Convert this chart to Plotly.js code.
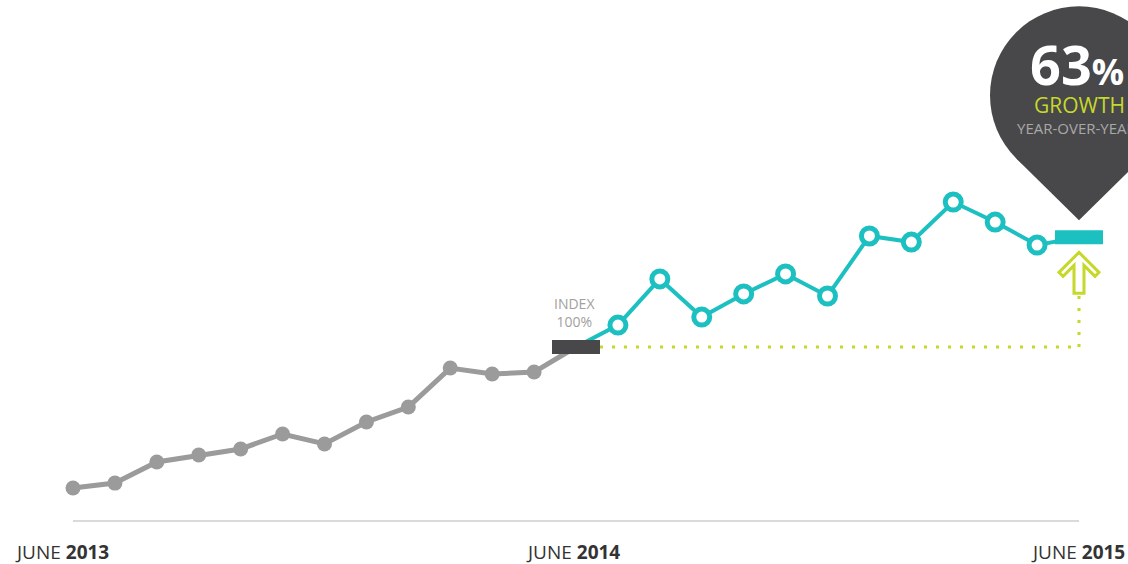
<!DOCTYPE html>
<html>
<head>
<meta charset="utf-8">
<script src="https://cdn.plot.ly/plotly-3.0.1.min.js"></script>
<style>html,body{margin:0;padding:0;background:#fff;}#chart{width:1128px;height:564px;}</style>
</head>
<body>
<div id="chart"></div>
<script>
// Months since June 2013
const grayMonths = [0,1,2,3,4,5,6,7,8,9,10,11];
const grayValues = [19.0,21.8,33.9,37.9,41.4,50.0,44.3,56.9,65.5,87.9,84.5,85.6];
const indexMonth = 12;
const indexValue = 100;
const tealMonths = [13,14,15,16,17,18,19,20,21,22,23];
const tealValues = [112.6,139.1,117.2,130.5,142.0,129.3,163.8,160.3,183.3,171.8,158.6];
const endMonth = 24;
const endValue = 163;
const tickMonths = [0,12,24];
const tickLabels = ["JUNE <b>2013</b>","JUNE <b>2014</b>","JUNE <b>2015</b>"];
const growthText = "63";

const GRAY = '#9b9b9b', TEAL = '#1cc0c0', DARK = '#48484a', LIME = '#c6d82a';
const FONT = 'Open Sans, Segoe UI, sans-serif';

const traces = [
  {x: grayMonths.concat([indexMonth]), y: grayValues.concat([indexValue]), mode:'lines',
   line:{color:GRAY, width:5}, hoverinfo:'skip'},
  {x: grayMonths, y: grayValues, mode:'markers',
   marker:{color:GRAY, size:15}, hoverinfo:'skip'},
  {x: [indexMonth].concat(tealMonths, [endMonth]), y: [indexValue].concat(tealValues, [endValue]), mode:'lines',
   line:{color:TEAL, width:4}, hoverinfo:'skip'},
  {x: tealMonths, y: tealValues, mode:'markers',
   marker:{color:'#ffffff', size:16, line:{color:TEAL, width:5}}, hoverinfo:'skip'}
];

// pin geometry (pixel offsets, y up)
const tipY = 17, cY = 142, r = 89;
const d = cY - tipY, phi = Math.acos(r/d);
const px = r*Math.sin(phi), py = cY - r*Math.cos(phi);

const shapes = [
  {type:'line', xref:'x', yref:'y', x0:tickMonths[0], x1:tickMonths[2], y0:0, y1:0,
   line:{color:'#dadada', width:2}, layer:'below'},
  {type:'line', xref:'x', yref:'y', x0:indexMonth, x1:endMonth, y0:indexValue, y1:indexValue,
   line:{color:LIME, width:3, dash:'3px,9px'}, layer:'below'},
  {type:'line', xref:'x', yref:'y', xsizemode:'pixel', xanchor:endMonth, x0:0, x1:0,
   ysizemode:'pixel', yanchor:indexValue, y0:0, y1:51,
   line:{color:LIME, width:3, dash:'3px,9px'}, layer:'below'},
  {type:'rect', xref:'x', yref:'y', xsizemode:'pixel', xanchor:indexMonth, x0:-24, x1:24,
   ysizemode:'pixel', yanchor:indexValue, y0:-7, y1:7, fillcolor:DARK, line:{width:0}},
  {type:'rect', xref:'x', yref:'y', xsizemode:'pixel', xanchor:endMonth, x0:-24, x1:24,
   ysizemode:'pixel', yanchor:endValue, y0:-7, y1:7, fillcolor:TEAL, line:{width:0}},
  {type:'path', xref:'x', yref:'y', xsizemode:'pixel', xanchor:endMonth, ysizemode:'pixel', yanchor:endValue,
   path:'M 0,-15 L 20,-35 L 16,-39 L 5,-28 L 5,-56 L -5,-56 L -5,-28 L -16,-39 L -20,-35 Z',
   fillcolor:'#ffffff', line:{color:LIME, width:3}},
  {type:'circle', xref:'x', yref:'y', xsizemode:'pixel', xanchor:endMonth, x0:-r, x1:r,
   ysizemode:'pixel', yanchor:endValue, y0:cY-r, y1:cY+r, fillcolor:DARK, line:{width:0}},
  {type:'path', xref:'x', yref:'y', xsizemode:'pixel', xanchor:endMonth, ysizemode:'pixel', yanchor:endValue,
   path:`M ${-px},${py} L 0,${tipY} L ${px},${py} L 0,${cY} Z`, fillcolor:DARK, line:{width:0}}
];

const annotations = [
  {x:endMonth, y:endValue, xref:'x', yref:'y', yshift:173, xshift:-2, showarrow:false,
   text: growthText + "<span style='font-size:36px'>%</span>",
   font:{family:FONT, size:54, color:'#ffffff', weight:700}},
  {x:endMonth, y:endValue, xref:'x', yref:'y', yshift:132, showarrow:false,
   text:'GROWTH', font:{family:FONT, size:21, color:LIME}},
  {x:endMonth, y:endValue, xref:'x', yref:'y', yshift:109, xshift:-2, showarrow:false,
   text:'YEAR-OVER-YEAR', font:{family:FONT, size:15, color:'#a8a8a8'}},
  {x:indexMonth, y:indexValue, xref:'x', yref:'y', yshift:35, xshift:-2, showarrow:false,
   text:'INDEX<br>' + indexValue + '%', font:{family:FONT, size:14, color:'#a0a0a0'}}
];
tickMonths.forEach((m,i)=>{
  annotations.push({x:m, y:0, xref:'x', yref:'y', yshift:-31, xshift: i===0 ? -11 : (i===1 ? -3 : -1), showarrow:false,
    text:tickLabels[i], font:{family:FONT, size:19, color:'#333333'}});
});

const layout = {
  width:1128, height:564,
  margin:{l:0, r:0, t:0, b:0},
  paper_bgcolor:'#ffffff', plot_bgcolor:'#ffffff',
  showlegend:false,
  xaxis:{range:[-1.7416, 25.169], visible:false, fixedrange:true},
  yaxis:{range:[-24.7, 299.4], visible:false, fixedrange:true},
  shapes:shapes, annotations:annotations
};

Plotly.newPlot('chart', traces, layout, {displayModeBar:false, staticPlot:true});
</script>
</body>
</html>
